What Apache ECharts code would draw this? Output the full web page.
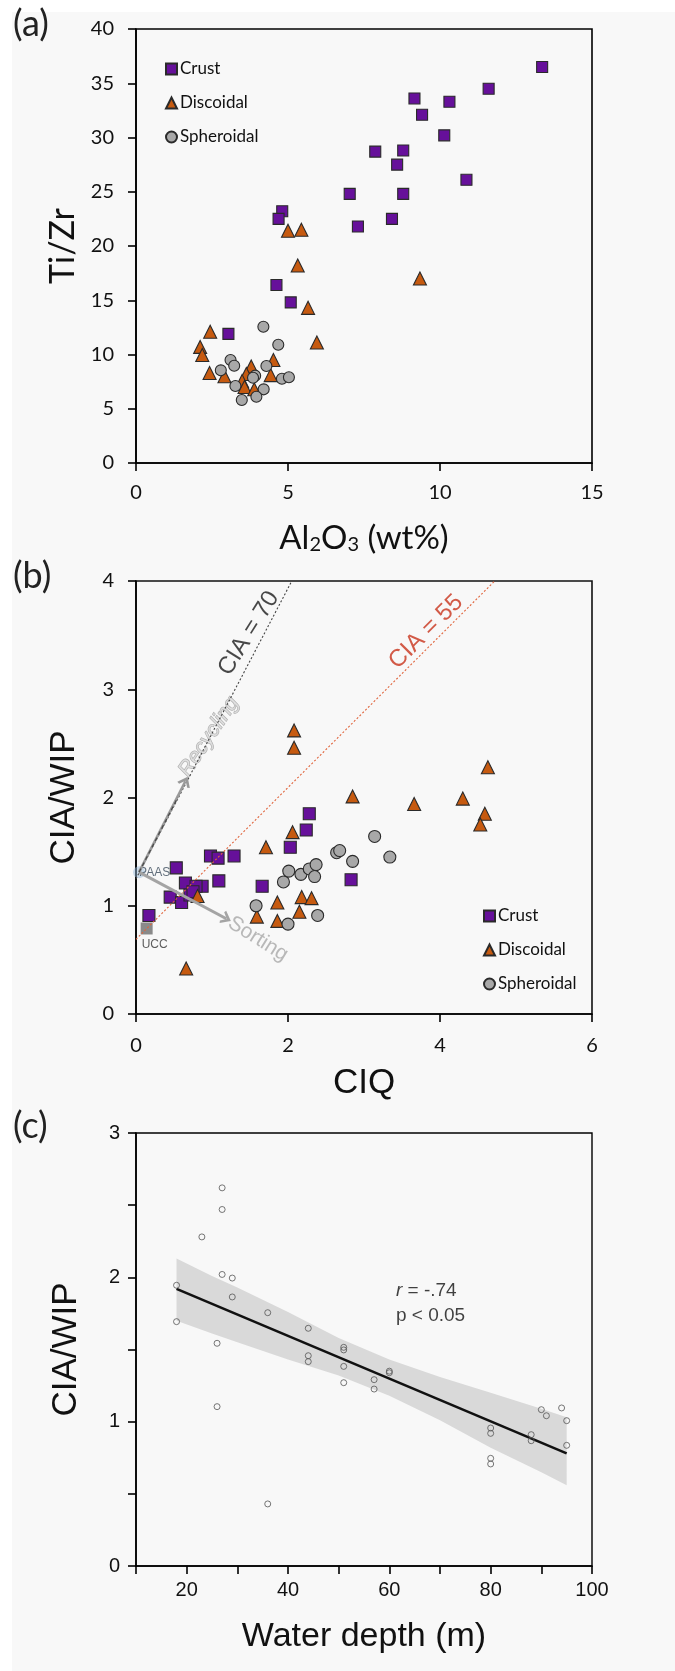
<!DOCTYPE html>
<html><head><meta charset="utf-8">
<script src="https://cdn.jsdelivr.net/npm/echarts@6/dist/echarts.min.js"></script>
<style>html,body{margin:0;padding:0;background:#fff}#c{width:675px;height:1671px}</style>
</head><body><div id="c"></div>
<script>
// ---------- Panel (a): Al2O3 vs Ti/Zr ----------
const crustA_x = [13.36, 11.6, 9.16, 10.31, 9.41, 10.14, 7.87, 8.79, 8.59, 10.87, 7.03, 8.79, 4.81, 4.69, 8.42, 7.3, 4.62, 5.09, 3.04];
const crustA_y = [36.5, 34.5, 33.6, 33.3, 32.1, 30.2, 28.7, 28.8, 27.5, 26.1, 24.8, 24.8, 23.2, 22.5, 22.5, 21.8, 16.4, 14.8, 11.9];
const discA_x = [5.0, 5.44, 5.32, 9.34, 5.66, 2.44, 5.95, 2.11, 2.18, 4.52, 2.42, 2.91, 3.79, 4.43, 3.63, 3.49, 3.57, 3.89];
const discA_y = [21.4, 21.5, 18.2, 17.0, 14.3, 12.1, 11.1, 10.7, 9.95, 9.5, 8.3, 8.0, 8.9, 8.1, 8.2, 7.55, 7.0, 6.8];
const sphA_x = [4.19, 4.68, 3.11, 3.23, 2.79, 4.29, 3.92, 3.85, 4.8, 5.03, 3.27, 4.2, 3.96, 3.48];
const sphA_y = [12.56, 10.9, 9.5, 8.97, 8.54, 8.94, 8.05, 7.86, 7.77, 7.9, 7.1, 6.79, 6.11, 5.8];

// ---------- Panel (b): CIQ vs CIA/WIP ----------
const crustB_x = [2.28, 2.24, 2.03, 0.98, 1.08, 1.29, 0.53, 0.65, 0.87, 1.09, 1.66, 2.83, 0.45, 0.60, 0.71, 0.79, 0.17, 0.75];
const crustB_y = [1.85, 1.70, 1.54, 1.46, 1.44, 1.46, 1.35, 1.21, 1.18, 1.23, 1.18, 1.24, 1.08, 1.03, 1.10, 1.18, 0.91, 1.13];
const discB_x = [2.08, 2.08, 4.63, 2.85, 4.30, 3.66, 4.59, 4.53, 2.06, 1.71, 1.86, 2.18, 2.31, 1.59, 1.86, 2.15, 0.81, 0.66];
const discB_y = [2.62, 2.46, 2.28, 2.01, 1.99, 1.94, 1.85, 1.75, 1.68, 1.54, 1.03, 1.08, 1.07, 0.90, 0.86, 0.945, 1.09, 0.42];
const sphB_x = [2.64, 2.68, 2.85, 3.34, 2.01, 2.17, 2.28, 2.37, 2.35, 1.94, 1.58, 2.39, 2.0, 3.14];
const sphB_y = [1.49, 1.51, 1.41, 1.45, 1.32, 1.29, 1.34, 1.38, 1.27, 1.22, 1.00, 0.91, 0.83, 1.64];
const ucc = [0.14, 0.79];
const paas = [0.04, 1.31];
const cia70_x = [0, 2.05], cia70_y = [1.25, 4];
const cia55_x = [0, 4.72], cia55_y = [0.69, 4];
const recyclingEnd = [0.65, 2.15];
const sortingEnd = [1.19, 0.88];

// ---------- Panel (c): Water depth vs CIA/WIP ----------
const depth = [27, 27, 23, 27, 29, 18, 29, 36, 18, 44, 26, 51, 51, 44, 44, 51, 60, 60, 57, 51, 57, 26, 36, 90, 91, 94, 95, 80, 80, 88, 88, 95, 80, 80];
const ciaWip = [2.62, 2.47, 2.28, 2.02, 1.995, 1.945, 1.864, 1.755, 1.693, 1.647, 1.543, 1.515, 1.497, 1.457, 1.416, 1.383, 1.339, 1.35, 1.291, 1.27, 1.226, 1.104, 0.43, 1.083, 1.041, 1.095, 1.007, 0.956, 0.919, 0.91, 0.868, 0.836, 0.746, 0.707];
const regX = [18, 95], regY = [1.92, 0.78];
const bandX =     [18,   25,   30,   40,   50,   60,   70,   80,   90,   95];
const bandUpper = [2.13, 2.01, 1.93, 1.76, 1.58, 1.43, 1.31, 1.20, 1.09, 1.03];
const bandLower = [1.70, 1.61, 1.55, 1.43, 1.32, 1.18, 1.01, 0.82, 0.65, 0.56];

const zip = (xs, ys) => xs.map((x, i) => [x, ys[i]]);

const CAL = 'Lato';
const ARI = 'Liberation Sans';
const PURPLE = '#66109a', ORANGE = '#c65a10', GRAY = '#a8a8a8', EDGE = '#2a2a2a';

function axisCommon(fontFam, fontSize, margin) {
  return {
    axisLine: { show: true, onZero: false, lineStyle: { color: '#000', width: 1.6 } },
    axisTick: { show: true, inside: false, length: 8, lineStyle: { color: '#000', width: 1.6 } },
    axisLabel: { color: '#111', fontFamily: fontFam, fontSize: fontSize, margin: margin },
    splitLine: { show: false }
  };
}

const chart = echarts.init(document.getElementById('c'), null, { renderer: 'canvas' });

const option = {
  backgroundColor: '#ffffff',
  animation: false,
  graphic: [
    { type: 'rect', left: 12, top: 12, z: -100, shape: { width: 663, height: 1659 }, style: { fill: '#f8f8f8' } },
    { type: 'text', left: 13, top: 6, style: { text: '(a)', font: '36px Lato', fill: '#222' } },
    { type: 'text', left: 13, top: 558, style: { text: '(b)', font: '36px Lato', fill: '#222' } },
    { type: 'text', left: 13, top: 1108, style: { text: '(c)', font: '36px Lato', fill: '#222' } }
  ],
  grid: [
    { left: 136, right: 83, top: 29, height: 434, show: true, borderColor: '#000', borderWidth: 1.6, backgroundColor: 'transparent' },
    { left: 136, right: 83, top: 581, height: 433, show: true, borderColor: '#111', borderWidth: 1.6, backgroundColor: 'transparent' },
    { left: 136, right: 83, top: 1133, height: 433, show: true, borderColor: '#000', borderWidth: 1.4, backgroundColor: 'transparent' }
  ],
  xAxis: [
    Object.assign(axisCommon(CAL, 20, 20), {
      gridIndex: 0, type: 'value', min: 0, max: 15, interval: 5,
      name: '{a|Al}{s|2}{a|O}{s|3}{a| (wt%)}', nameLocation: 'middle', nameGap: 52,
      nameTextStyle: { rich: {
        a: { fontFamily: CAL, fontSize: 33, color: '#111', verticalAlign: 'bottom', lineHeight: 40 },
        s: { fontFamily: CAL, fontSize: 20, color: '#111', verticalAlign: 'bottom', lineHeight: 40 }
      } }
    }),
    Object.assign(axisCommon(CAL, 20, 22), {
      gridIndex: 1, type: 'value', min: 0, max: 6, interval: 2,
      name: 'CIQ', nameLocation: 'middle', nameGap: 52,
      nameTextStyle: { fontFamily: ARI, fontSize: 35, color: '#111' }
    }),
    Object.assign(axisCommon(ARI, 20, 16), {
      gridIndex: 2, type: 'value', min: 10, max: 100, interval: 10,
      name: 'Water depth (m)', nameLocation: 'middle', nameGap: 54,
      nameTextStyle: { fontFamily: ARI, fontSize: 34, color: '#111' },
      axisLabel: { color: '#111', fontFamily: ARI, fontSize: 20, margin: 14,
        formatter: v => (v % 20 === 0 ? String(v) : '') }
    })
  ],
  yAxis: [
    Object.assign(axisCommon(CAL, 20, 22), {
      gridIndex: 0, type: 'value', min: 0, max: 40, interval: 5,
      name: 'Ti/Zr', nameLocation: 'middle', nameGap: 56, nameRotate: 90,
      nameTextStyle: { fontFamily: CAL, fontSize: 34, color: '#111' }
    }),
    Object.assign(axisCommon(CAL, 20, 22), {
      gridIndex: 1, type: 'value', min: 0, max: 4, interval: 1,
      name: 'CIA/WIP', nameLocation: 'middle', nameGap: 54, nameRotate: 90,
      nameTextStyle: { fontFamily: ARI, fontSize: 35, color: '#111' }
    }),
    Object.assign(axisCommon(ARI, 20, 16), {
      gridIndex: 2, type: 'value', min: 0, max: 3, interval: 0.5,
      name: 'CIA/WIP', nameLocation: 'middle', nameGap: 52, nameRotate: 90,
      nameTextStyle: { fontFamily: ARI, fontSize: 35, color: '#111' },
      axisLabel: { color: '#111', fontFamily: ARI, fontSize: 20, margin: 16,
        formatter: v => (Number.isInteger(v) ? String(v) : '') }
    })
  ],
  legend: [
    {
      left: 160, top: 54, orient: 'vertical', itemWidth: 11, itemHeight: 11, itemGap: 14, selectedMode: false,
      data: [{ name: 'Crust', icon: 'rect' }, { name: 'Discoidal', icon: 'triangle' }, { name: 'Spheroidal', icon: 'circle' }],
      textStyle: { fontFamily: CAL, fontSize: 17, color: '#111', lineHeight: 20, padding: [0, 0, 0, -2] }
    },
    {
      left: 478, top: 901, orient: 'vertical', itemWidth: 11, itemHeight: 11, itemGap: 14, selectedMode: false,
      data: [{ name: 'Crust', icon: 'rect' }, { name: 'Discoidal', icon: 'triangle' }, { name: 'Spheroidal', icon: 'circle' }],
      textStyle: { fontFamily: CAL, fontSize: 17, color: '#111', lineHeight: 20, padding: [0, 0, 0, -2] }
    }
  ],
  series: [
    // ----- panel (a)
    { name: 'Crust', type: 'scatter', xAxisIndex: 0, yAxisIndex: 0, symbol: 'rect', symbolSize: 11,
      itemStyle: { color: PURPLE, borderColor: EDGE, borderWidth: 1.1, opacity: 1 }, data: zip(crustA_x, crustA_y) },
    { name: 'Discoidal', type: 'scatter', xAxisIndex: 0, yAxisIndex: 0, symbol: 'triangle', symbolSize: 13,
      itemStyle: { color: ORANGE, borderColor: EDGE, borderWidth: 1.1, opacity: 1 }, data: zip(discA_x, discA_y) },
    { name: 'Spheroidal', type: 'scatter', xAxisIndex: 0, yAxisIndex: 0, symbol: 'circle', symbolSize: 11,
      itemStyle: { color: GRAY, borderColor: EDGE, borderWidth: 1.1, opacity: 1 }, data: zip(sphA_x, sphA_y) },

    // ----- panel (b) reference lines
    { name: 'CIA70', type: 'line', xAxisIndex: 1, yAxisIndex: 1, symbol: 'none', silent: true,
      lineStyle: { color: '#444', width: 1.1, type: [2, 2] }, data: zip(cia70_x, cia70_y) },
    { name: 'CIA55', type: 'line', xAxisIndex: 1, yAxisIndex: 1, symbol: 'none', silent: true,
      lineStyle: { color: '#e0643c', width: 1.1, type: [2, 2] }, data: zip(cia55_x, cia55_y) },
    // arrows
    { name: 'arrows', type: 'scatter', xAxisIndex: 1, yAxisIndex: 1, symbolSize: 0, data: [], silent: true,
      markLine: {
        silent: true, animation: false, label: { show: false },
        symbol: ['none', 'path://M0,9 L10,0 L20,9 L16.5,10 L10,4.5 L3.5,10 Z'], symbolSize: [14, 10],
        data: [
          [{ coord: paas, lineStyle: { color: '#9a9a9a', width: 2.6, type: 'solid' } }, { coord: recyclingEnd }],
          [{ coord: paas, lineStyle: { color: '#a4a4a4', width: 3, type: 'solid' } }, { coord: sortingEnd }]
        ]
      }
    },
    { name: 'recycDash', type: 'scatter', xAxisIndex: 1, yAxisIndex: 1, symbolSize: 0, data: [], silent: true,
      markLine: {
        silent: true, animation: false, label: { show: false }, symbol: ['none', 'none'],
        data: [[{ coord: paas, lineStyle: { color: '#4a4a4a', width: 1.3, type: [4, 3] } }, { coord: [0.55, 2.0] }]]
      }
    },
    // markers
    { name: 'Crust', type: 'scatter', xAxisIndex: 1, yAxisIndex: 1, symbol: 'rect', symbolSize: 12,
      itemStyle: { color: PURPLE, borderColor: EDGE, borderWidth: 1.1, opacity: 1 }, data: zip(crustB_x, crustB_y) },
    { name: 'Discoidal', type: 'scatter', xAxisIndex: 1, yAxisIndex: 1, symbol: 'triangle', symbolSize: 13,
      itemStyle: { color: ORANGE, borderColor: EDGE, borderWidth: 1.1, opacity: 1 }, data: zip(discB_x, discB_y) },
    { name: 'Spheroidal', type: 'scatter', xAxisIndex: 1, yAxisIndex: 1, symbol: 'circle', symbolSize: 12,
      itemStyle: { color: GRAY, borderColor: EDGE, borderWidth: 1.1, opacity: 1 }, data: zip(sphB_x, sphB_y) },
    { name: 'UCC', type: 'scatter', xAxisIndex: 1, yAxisIndex: 1, symbol: 'rect', symbolSize: 12,
      itemStyle: { color: '#6e6e6e' }, data: [ucc],
      label: { show: true, formatter: 'UCC', position: 'bottom', distance: 4, offset: [8, 0], fontFamily: ARI, fontSize: 12, color: '#333' } },
    { name: 'PAAS', type: 'scatter', xAxisIndex: 1, yAxisIndex: 1, symbol: 'circle', symbolSize: 12,
      itemStyle: { color: 'rgba(150,185,220,0.6)' }, data: [paas],
      label: { show: true, formatter: 'PAAS', position: 'right', distance: -6, fontFamily: ARI, fontSize: 12, color: '#3b4b5b' } },
    // text annotations
    { name: 'txtCIA70', type: 'scatter', xAxisIndex: 1, yAxisIndex: 1, symbolSize: 0, silent: true, data: [[1.484, 3.517]],
      label: { show: true, formatter: 'CIA = 70', position: 'inside', rotate: 58, fontFamily: ARI, fontSize: 24, color: '#1a1a1a' } },
    { name: 'txtCIA55', type: 'scatter', xAxisIndex: 1, yAxisIndex: 1, symbolSize: 0, silent: true, data: [[3.816, 3.53]],
      label: { show: true, formatter: 'CIA = 55', position: 'inside', rotate: 45, fontFamily: ARI, fontSize: 24, color: '#c8321a' } },
    { name: 'txtRecycling', type: 'scatter', xAxisIndex: 1, yAxisIndex: 1, symbolSize: 0, silent: true, data: [[0.958, 2.562]],
      label: { show: true, formatter: 'Recycling', position: 'inside', rotate: 56, fontFamily: ARI, fontStyle: 'italic', fontSize: 21,
        color: '#dedede', textBorderColor: '#999999', textBorderWidth: 1.1 } },
    { name: 'txtSorting', type: 'scatter', xAxisIndex: 1, yAxisIndex: 1, symbolSize: 0, silent: true, data: [[1.605, 0.693]],
      label: { show: true, formatter: 'Sorting', position: 'inside', rotate: -32, fontFamily: ARI, fontSize: 21, color: '#a8a8a8' } },

    // ----- panel (c)
    { name: 'band', type: 'custom', xAxisIndex: 2, yAxisIndex: 2, silent: true, z: 1,
      data: [[bandX[0], bandUpper[0]]],
      renderItem: function (params, api) {
        const up = bandX.map((x, i) => api.coord([x, bandUpper[i]]));
        const lo = bandX.map((x, i) => api.coord([x, bandLower[i]])).reverse();
        return { type: 'polygon', shape: { points: up.concat(lo) }, style: { fill: '#d9d9d9' } };
      }
    },
    { name: 'regression', type: 'line', xAxisIndex: 2, yAxisIndex: 2, symbol: 'none', silent: true, z: 3,
      lineStyle: { color: '#111', width: 2.6 }, data: zip(regX, regY) },
    { name: 'samples', type: 'scatter', xAxisIndex: 2, yAxisIndex: 2, symbol: 'circle', symbolSize: 6, z: 4,
      itemStyle: { color: 'rgba(255,255,255,0)', borderColor: '#555', borderWidth: 1 }, data: zip(depth, ciaWip) },
    { name: 'stats', type: 'scatter', xAxisIndex: 2, yAxisIndex: 2, symbolSize: 0, silent: true, data: [[61.3, 1.82]],
      label: { show: true, position: 'right', distance: 0, fontFamily: ARI, fontSize: 19, color: '#111', lineHeight: 25,
        formatter: '{i|r} = -.74\np < 0.05',
        rich: { i: { fontFamily: ARI, fontSize: 19, fontStyle: 'italic', color: '#111' } } } }
  ]
};
chart.setOption(option);
</script></body></html>
